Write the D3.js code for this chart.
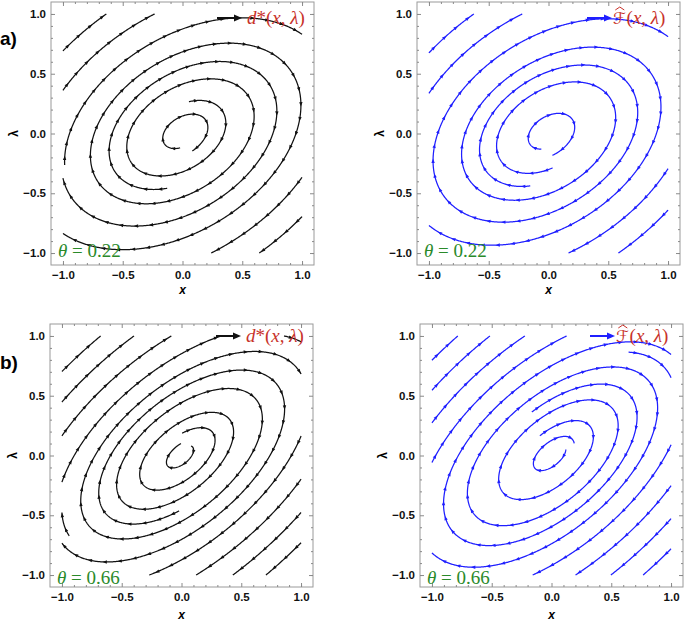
<!DOCTYPE html>
<html><head><meta charset="utf-8">
<script src="https://cdn.jsdelivr.net/npm/d3@7"></script>
<style>body{margin:0;background:#fff}</style>
</head><body>
<svg id="chart" width="685" height="623"></svg>
<script>
// ---------------- data ----------------
const rowLabels = ["a)", "b)"];
const thetaValues = ["0.22", "0.66"];
const tickValues = [-1.0, -0.5, 0.0, 0.5, 1.0];
const tickLabels = ["\u22121.0", "\u22120.5", "0.0", "0.5", "1.0"];
const minorTickValues = [-1.0,-0.9,-0.8,-0.7,-0.6,-0.4,-0.3,-0.2,-0.1,0.1,0.2,0.3,0.4,0.6,0.7,0.8,0.9,1.0];
const panelRow = [0, 0, 1, 1];
const panelSeries = [0, 1, 0, 1];            // 0: d*(x,λ), 1: F̂(x,λ)
// linear vector field of each panel (clockwise, slowly unwinding spiral)
const fieldTilt   = [32, 32.5, 39, 39.5];     // degrees of the ellipse major axis
const fieldRatio  = [0.66, 0.665, 0.52, 0.525];// minor/major axis ratio
const fieldGrowth = [0.08, 0.082, 0.07, 0.074];// radial growth per radian
const lineSpacing = [0.21, 0.21, 0.172, 0.172];
const seedPoints = [
  [[-0.02, -0.12], [-1.0, 0.54]],
  [[-0.06, -0.13], [-1.0, 0.54]],
  [[0.08, 0.08], [-1.0, 0.24]],
  [[0.12, 0.05], [-1.0, 0.24]]
];

// ---------------- layout / style ----------------
const W = 263, H = 263;
const panelPos = [[51, 2], [417, 2], [50, 324], [420, 324]];
const lineColor = ["#111111", "#1f1fff"];
const labelRed = "#c8322a", labelGreen = "#2a8a2a";
const svg = d3.select("#chart");

function dir(p, x, y) {
  const phi = fieldTilt[p] * Math.PI / 180, k = fieldRatio[p], g = fieldGrowth[p];
  const c = Math.cos(phi), s = Math.sin(phi);
  const u = c * x + s * y, w = -s * x + c * y;
  const du = w / k + g * u, dw = -k * u + g * w;
  const vx = c * du - s * dw, vy = s * du + c * dw;
  const m = Math.hypot(vx, vy);
  return m < 1e-9 ? null : [vx / m, vy / m];
}
function makeGrid(cell) {
  const m = new Map();
  return {
    add(x, y, o) { const k = Math.floor(x / cell) + "_" + Math.floor(y / cell); let a = m.get(k); if (!a) { a = []; m.set(k, a); } a.push([x, y, o]); },
    query(x, y, r, fn) {
      const i0 = Math.floor((x - r) / cell), i1 = Math.floor((x + r) / cell);
      const j0 = Math.floor((y - r) / cell), j1 = Math.floor((y + r) / cell);
      for (let i = i0; i <= i1; i++) for (let j = j0; j <= j1; j++) {
        const a = m.get(i + "_" + j); if (!a) continue;
        for (const q of a) { const dx = q[0] - x, dy = q[1] - y; if (dx * dx + dy * dy < r * r && fn(q[2])) return true; }
      }
      return false;
    }
  };
}
function integrate(p, x0, y0, sign, grid, dtest, lg) {
  const pts = []; let x = x0, y = y0, s = 0; const h = 0.006 * sign;
  for (let n = 0; n < 5000; n++) {
    const k1 = dir(p, x, y); if (!k1) break;
    const k2 = dir(p, x + h / 2 * k1[0], y + h / 2 * k1[1]); if (!k2) break;
    const k3 = dir(p, x + h / 2 * k2[0], y + h / 2 * k2[1]); if (!k3) break;
    const k4 = dir(p, x + h * k3[0], y + h * k3[1]); if (!k4) break;
    const nx = x + h / 6 * (k1[0] + 2 * k2[0] + 2 * k3[0] + k4[0]);
    const ny = y + h / 6 * (k1[1] + 2 * k2[1] + 2 * k3[1] + k4[1]);
    if (Math.abs(nx) > 1 || Math.abs(ny) > 1) {
      let t = 1;
      if (Math.abs(nx) > 1) t = Math.min(t, (Math.sign(nx) - x) / (nx - x));
      if (Math.abs(ny) > 1) t = Math.min(t, (Math.sign(ny) - y) / (ny - y));
      pts.push([x + (nx - x) * t, y + (ny - y) * t]); break;
    }
    s += Math.abs(h);
    if (Math.hypot(nx, ny) < 0.012) break;
    if (grid.query(nx, ny, dtest, () => true)) break;
    const ss = s * sign;
    if (lg.query(nx, ny, dtest, o => Math.abs(o - ss) > 3 * dtest)) break;
    x = nx; y = ny; pts.push([x, y]); lg.add(x, y, ss);
  }
  return pts;
}
function streamlines(p) {
  const dsep = lineSpacing[p], dtest = dsep * 0.5;
  const grid = makeGrid(dsep); const lines = [];
  function tryLine(x0, y0) {
    if (Math.abs(x0) > 0.995 || Math.abs(y0) > 0.995) return;
    if (grid.query(x0, y0, dsep * 0.98, () => true)) return;
    const lg = makeGrid(dtest); lg.add(x0, y0, 0);
    const fw = integrate(p, x0, y0, 1, grid, dtest, lg);
    const bw = integrate(p, x0, y0, -1, grid, dtest, lg);
    const pts = bw.reverse().concat([[x0, y0]], fw);
    let len = 0; for (let i = 1; i < pts.length; i++) len += Math.hypot(pts[i][0] - pts[i - 1][0], pts[i][1] - pts[i - 1][1]);
    if (len < 0.12) return;
    pts.forEach(q => grid.add(q[0], q[1], 1));
    lines.push(pts);
  }
  seedPoints[p].forEach(s => tryLine(s[0], s[1]));
  for (let li = 0; li < lines.length; li++) {
    const pts = lines[li];
    for (let j = 0; j < pts.length; j += 6) {
      const a = pts[Math.max(0, j - 1)], b = pts[Math.min(pts.length - 1, j + 1)];
      let tx = b[0] - a[0], ty = b[1] - a[1]; const m = Math.hypot(tx, ty); if (m === 0) continue; tx /= m; ty /= m;
      for (const sg of [1, -1]) tryLine(pts[j][0] - ty * dsep * sg, pts[j][1] + tx * dsep * sg);
    }
  }
  return lines;
}

panelPos.forEach((pos, p) => {
  const row = panelRow[p], ser = panelSeries[p], col = lineColor[ser];
  const g = svg.append("g").attr("transform", `translate(${pos[0]},${pos[1]})`);
  const x = d3.scaleLinear().domain([-1.1, 1.1]).range([0, W]);
  const y = d3.scaleLinear().domain([-1.1, 1.1]).range([H, 0]);

  // frame
  g.append("rect").attr("width", W).attr("height", H).attr("fill", "none").attr("stroke", "#9a9a9a").attr("stroke-width", 1);
  const styleAxis = sel => {
    sel.select(".domain").remove();
    sel.selectAll(".tick line").attr("stroke", "#8a8a8a");
    sel.selectAll(".tick text").attr("font-family", "Liberation Sans, Arial, sans-serif").attr("font-weight", "bold").attr("font-size", 11.5).attr("fill", "#111");
  };
  g.append("g").attr("transform", `translate(0,${H})`).call(d3.axisBottom(x).tickValues(tickValues).tickFormat((d, i) => tickLabels[i]).tickSize(-4).tickPadding(6)).call(styleAxis);
  g.append("g").call(d3.axisLeft(y).tickValues(tickValues).tickFormat((d, i) => tickLabels[i]).tickSize(-4).tickPadding(5)).call(styleAxis);
  g.append("g").call(d3.axisTop(x).tickValues(tickValues).tickFormat("").tickSize(-4)).call(styleAxis);
  g.append("g").attr("transform", `translate(${W},0)`).call(d3.axisRight(y).tickValues(tickValues).tickFormat("").tickSize(-4)).call(styleAxis);
  g.append("g").attr("transform", `translate(0,${H})`).call(d3.axisBottom(x).tickValues(minorTickValues).tickFormat("").tickSize(-2)).call(styleAxis);
  g.append("g").call(d3.axisTop(x).tickValues(minorTickValues).tickFormat("").tickSize(-2)).call(styleAxis);
  g.append("g").call(d3.axisLeft(y).tickValues(minorTickValues).tickFormat("").tickSize(-2)).call(styleAxis);
  g.append("g").attr("transform", `translate(${W},0)`).call(d3.axisRight(y).tickValues(minorTickValues).tickFormat("").tickSize(-2)).call(styleAxis);

  // axis labels
  g.append("text").attr("x", W / 2).attr("y", H + 32 - (row === 0 ? 3 : 0)).attr("text-anchor", "middle")
    .attr("font-family", "Liberation Sans, Arial, sans-serif").attr("font-weight", "bold").attr("font-style", "italic").attr("font-size", 12).text("x");
  g.append("text").attr("transform", `translate(${-37},${y(0)}) rotate(-90)`).attr("text-anchor", "middle").attr("dy", "0.35em")
    .attr("font-family", "Liberation Sans, Arial, sans-serif").attr("font-weight", "bold").attr("font-size", 12).text("λ");

  // streamlines
  const lines = streamlines(p);
  const lineGen = d3.line().x(d => x(d[0])).y(d => y(d[1]));
  const sg = g.append("g");
  lines.forEach(pts => {
    sg.append("path").attr("d", lineGen(pts)).attr("fill", "none").attr("stroke", col).attr("stroke-width", 1.25);
    const px = pts.map(d => [x(d[0]), y(d[1])]);
    const cum = [0]; for (let i = 1; i < px.length; i++) cum.push(cum[i - 1] + Math.hypot(px[i][0] - px[i - 1][0], px[i][1] - px[i - 1][1]));
    const total = cum[cum.length - 1];
    let seg = 1;
    for (let d = 7; d < total - 2; d += 15) {
      while (seg < px.length - 1 && cum[seg] < d) seg++;
      const a = px[seg - 1], b = px[seg]; const t = (d - cum[seg - 1]) / Math.max(1e-9, cum[seg] - cum[seg - 1]);
      const cx = a[0] + (b[0] - a[0]) * t, cy = a[1] + (b[1] - a[1]) * t;
      const ang = Math.atan2(b[1] - a[1], b[0] - a[0]) * 180 / Math.PI;
      sg.append("path").attr("d", "M2.3,0L-2,-1.7L-2,1.7Z").attr("fill", col)
        .attr("transform", `translate(${cx},${cy}) rotate(${ang})`);
    }
  });

  // legend
  const ly = row === 0 ? 16 : 12;
  const ax0 = ser === 0 ? 166 : 170, ax1 = ax0 + 25;
  g.append("line").attr("x1", ax0).attr("x2", ax1 - 6).attr("y1", ly).attr("y2", ly).attr("stroke", col).attr("stroke-width", 2);
  g.append("path").attr("d", `M${ax1},${ly}L${ax1 - 8},${ly - 3.5}L${ax1 - 8},${ly + 3.5}Z`).attr("fill", col);
  const tx = 196, tyb = ly + 6;
  if (ser === 0) {
    const t = g.append("text").attr("x", tx).attr("y", tyb).attr("font-family", "Liberation Serif, Times New Roman, serif").attr("font-size", 19).attr("fill", labelRed);
    t.append("tspan").attr("font-style", "italic").text("d");
    t.append("tspan").text("*(");
    t.append("tspan").attr("font-style", "italic").text("x");
    t.append("tspan").text(", ");
    t.append("tspan").attr("font-style", "italic").text("λ");
    t.append("tspan").text(")");
  } else {
    const f = g.append("text").attr("x", tx).attr("y", tyb).attr("font-family", "DejaVu Serif, DejaVu Sans, serif").attr("font-size", 16).attr("fill", labelRed).text("ℱ");
    const fw = f.node().getComputedTextLength();
    g.append("path").attr("d", `M${tx + fw / 2 - 4},${tyb - 14}L${tx + fw / 2 + 0.5},${tyb - 17}L${tx + fw / 2 + 5},${tyb - 14}`)
      .attr("fill", "none").attr("stroke", labelRed).attr("stroke-width", 1);
    const t = g.append("text").attr("x", tx + fw + 1).attr("y", tyb).attr("font-family", "Liberation Serif, Times New Roman, serif").attr("font-size", 19).attr("fill", labelRed);
    t.append("tspan").text("(");
    t.append("tspan").attr("font-style", "italic").text("x");
    t.append("tspan").text(", ");
    t.append("tspan").attr("font-style", "italic").text("λ");
    t.append("tspan").text(")");
  }

  // theta label
  const th = g.append("text").attr("x", 7).attr("y", row === 0 ? H - 8 : H - 3)
    .attr("font-family", "Liberation Serif, Times New Roman, serif").attr("font-size", 19).attr("fill", labelGreen);
  th.append("tspan").attr("font-style", "italic").text("θ");
  th.append("tspan").text(" = " + thetaValues[row]);
});

// row labels
rowLabels.forEach((r, i) => {
  svg.append("text").attr("x", 0).attr("y", i === 0 ? 45 : 369)
    .attr("font-family", "Liberation Sans, Arial, sans-serif").attr("font-weight", "bold").attr("font-size", 19).text(r);
});
</script>
</body></html>
